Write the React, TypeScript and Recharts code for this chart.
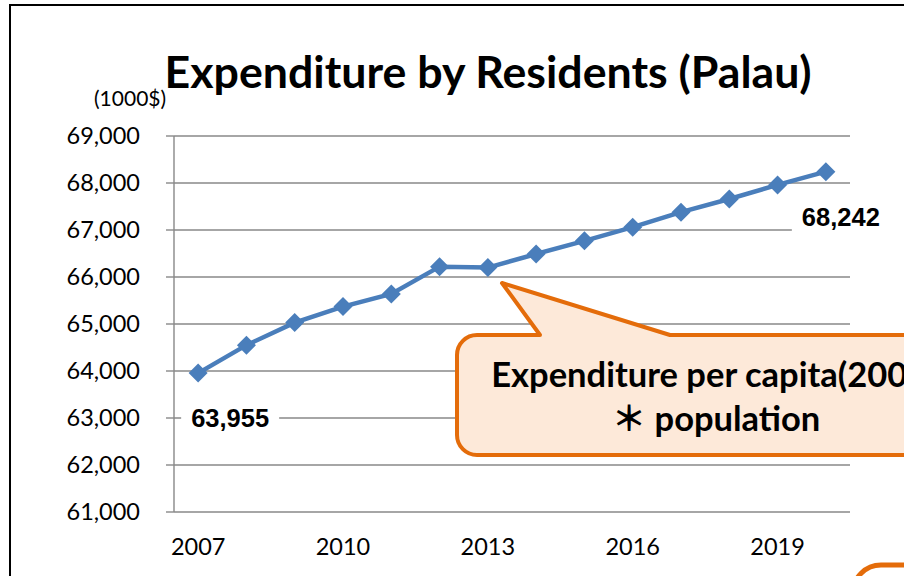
import React from "react";
import { LineChart, Line, XAxis, YAxis, CartesianGrid, LabelList } from "recharts";

// Palau, expenditure by residents (1000$)
const years = [2007, 2008, 2009, 2010, 2011, 2012, 2013, 2014, 2015, 2016, 2017, 2018, 2019, 2020];
const expenditure = [63955, 64550, 65030, 65370, 65640, 66220, 66200, 66490, 66770, 67060, 67380, 67660, 67960, 68242];
const yTicks = [61000, 62000, 63000, 64000, 65000, 66000, 67000, 68000, 69000];
const xLabelYears = [2007, 2010, 2013, 2016, 2019];
const xTickMarks = [2006.5, 2007.5, 2008.5, 2009.5, 2010.5, 2011.5, 2012.5, 2013.5, 2014.5, 2015.5, 2016.5, 2017.5, 2018.5, 2019.5, 2020.5];

const chartData = years.map((year, i) => ({ year, value: expenditure[i] }));

const BLUE = "#4A7EBB";
const GRID = "#888888";
const ORANGE = "#E46C0A";
const FONT = "Lato, 'Open Sans', sans-serif";

const Diamond = (props: any) => {
  const { cx, cy, index } = props;
  if (cx == null || cy == null) return null;
  const r = 9.5;
  return (
    <polygon
      key={"d" + index}
      points={`${cx},${cy - r} ${cx + r},${cy} ${cx},${cy + r} ${cx - r},${cy}`}
      fill={BLUE}
    />
  );
};

// only the first and last points get a value label
const EndLabel = (props: any) => {
  const { x, y, value, index } = props;
  const last = expenditure.length - 1;
  const isFirst = index === 0 || (index == null && value === expenditure[0]);
  const isLast = index === last || (index == null && value === expenditure[last]);
  if (!isFirst && !isLast) return null;
  const cx = isFirst ? x + 32 : x + 15;
  const cy = y + 45;
  return (
    <g>
      <rect x={cx - 49} y={cy - 15} width={98} height={30} fill="#fff" />
      <text
        x={cx}
        y={cy}
        dy="0.36em"
        textAnchor="middle"
        fontFamily="'Liberation Sans', Arial, sans-serif"
        fontWeight="bold"
        fontSize={25.5}
        fill="#000"
      >
        {value.toLocaleString("en-US")}
      </text>
    </g>
  );
};

export default function App() {
  return (
    <div style={{ position: "absolute", left: 0, top: 0, width: 904, height: 576, overflow: "hidden", background: "#fff" }}>
      <LineChart width={904} height={576} data={chartData} margin={{ top: 136, right: 54, left: 0, bottom: 24 }}>
        <CartesianGrid vertical={false} stroke={GRID} strokeWidth={1.4} />
        <XAxis
          xAxisId="marks"
          dataKey="year"
          type="number"
          domain={[2006.5, 2020.5]}
          ticks={xTickMarks}
          tick={false}
          height={0}
          tickSize={8}
          stroke={GRID}
          strokeWidth={1.4}
        />
        <XAxis
          xAxisId="labels"
          dataKey="year"
          type="number"
          domain={[2006.5, 2020.5]}
          ticks={xLabelYears}
          axisLine={false}
          tickLine={false}
          tickSize={8}
          tickMargin={18}
          height={40}
          tick={{ fill: "#000", fontSize: 23.5, fontFamily: FONT }}
        />
        <YAxis
          domain={[61000, 69000]}
          ticks={yTicks}
          width={174}
          tickSize={8}
          tickMargin={26}
          stroke={GRID}
          strokeWidth={1.4}
          tickFormatter={(v: number) => v.toLocaleString("en-US")}
          tick={{ fill: "#000", fontSize: 23.5, fontFamily: FONT }}
        />
        <Line
          xAxisId="marks"
          dataKey="value"
          stroke={BLUE}
          strokeWidth={4.5}
          dot={Diamond}
          activeDot={false}
          isAnimationActive={false}
        >
          <LabelList dataKey="value" content={EndLabel} />
        </Line>
      </LineChart>

      <svg width={904} height={576} style={{ position: "absolute", left: 0, top: 0, pointerEvents: "none" }}>
        <path d="M10 576 L10 5 L904 5" fill="none" stroke="#000" strokeWidth={2} />
        <text
          x={488}
          y={88}
          textAnchor="middle"
          fontFamily={FONT}
          fontWeight="bold"
          fontSize={43}
          textLength={647}
          lengthAdjust="spacingAndGlyphs"
          fill="#000"
        >
          Expenditure by Residents (Palau)
        </text>
        <text x={94} y={106} fontFamily={FONT} fontSize={21} fill="#000">
          (1000$)
        </text>
        <path
          d="M477 335 L540 335 L502 283 L670 335 L955 335 A20 20 0 0 1 975 355 L975 435 A20 20 0 0 1 955 455 L477 455 A20 20 0 0 1 457 435 L457 355 A20 20 0 0 1 477 335 Z"
          fill="#FDE9D9"
          stroke={ORANGE}
          strokeWidth={4}
          strokeLinejoin="round"
        />
        <text x={714} y={387} textAnchor="middle" fontFamily={FONT} fontWeight="bold" fontSize={34.5} fill="#000">
          Expenditure per capita(2007)
        </text>
        <text x={716} y={431} textAnchor="middle" fontFamily={`${FONT}, 'Noto Sans CJK JP'`} fontWeight="bold" fontSize={34.5} fill="#000">
          ＊ population
        </text>
        <path d="M853 600 L853 593 A28 28 0 0 1 881 565 L910 565" fill="none" stroke={ORANGE} strokeWidth={5} />
      </svg>
    </div>
  );
}
